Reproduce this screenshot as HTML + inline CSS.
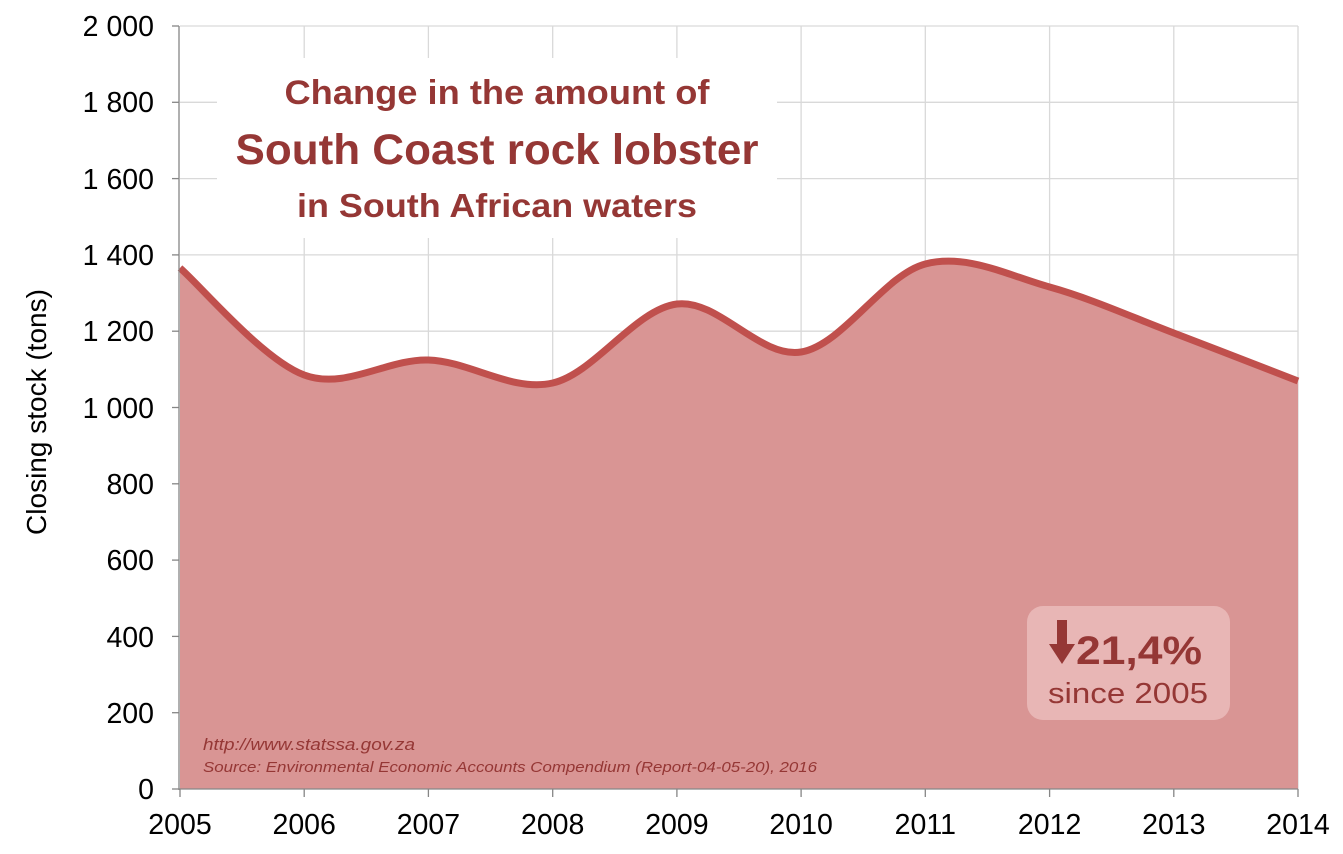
<!DOCTYPE html>
<html><head><meta charset="utf-8"><style>html,body{margin:0;padding:0;background:#fff}svg{display:block}</style></head>
<body>
<svg width="1343" height="854" viewBox="0 0 1343 854" xmlns="http://www.w3.org/2000/svg" font-family="Liberation Sans, Arial, sans-serif">
<g stroke="#d9d9d9" stroke-width="1.3">
<line x1="180" y1="26" x2="1298" y2="26"/>
<line x1="180" y1="102.3" x2="1298" y2="102.3"/>
<line x1="180" y1="178.6" x2="1298" y2="178.6"/>
<line x1="180" y1="254.9" x2="1298" y2="254.9"/>
<line x1="180" y1="331.2" x2="1298" y2="331.2"/>
<line x1="180" y1="407.5" x2="1298" y2="407.5"/>
<line x1="180" y1="483.8" x2="1298" y2="483.8"/>
<line x1="180" y1="560.1" x2="1298" y2="560.1"/>
<line x1="180" y1="636.4" x2="1298" y2="636.4"/>
<line x1="180" y1="712.7" x2="1298" y2="712.7"/>
<line x1="304.2" y1="26" x2="304.2" y2="789"/>
<line x1="428.4" y1="26" x2="428.4" y2="789"/>
<line x1="552.7" y1="26" x2="552.7" y2="789"/>
<line x1="676.9" y1="26" x2="676.9" y2="789"/>
<line x1="801.1" y1="26" x2="801.1" y2="789"/>
<line x1="925.3" y1="26" x2="925.3" y2="789"/>
<line x1="1049.6" y1="26" x2="1049.6" y2="789"/>
<line x1="1173.8" y1="26" x2="1173.8" y2="789"/>
<line x1="1298" y1="26" x2="1298" y2="789"/>
</g>
<path d="M180,268 C200.7,285.8 262.8,359.7 304.2,375 C345.6,390.3 387,358.7 428.4,360 C469.8,361.3 511.3,392.3 552.7,383 C594.1,373.7 635.5,309.2 676.9,304 C718.3,298.8 759.7,358.7 801.1,352 C842.5,345.3 883.9,274.8 925.3,264 C966.7,253.2 1008.2,275.5 1049.6,287 C1091,298.5 1132.4,317.3 1173.8,333 C1215.2,348.7 1277.3,373 1298,381 L1298,789 L180,789 Z" fill="#d99594"/>
<path d="M180,268 C200.7,285.8 262.8,359.7 304.2,375 C345.6,390.3 387,358.7 428.4,360 C469.8,361.3 511.3,392.3 552.7,383 C594.1,373.7 635.5,309.2 676.9,304 C718.3,298.8 759.7,358.7 801.1,352 C842.5,345.3 883.9,274.8 925.3,264 C966.7,253.2 1008.2,275.5 1049.6,287 C1091,298.5 1132.4,317.3 1173.8,333 C1215.2,348.7 1277.3,373 1298,381" fill="none" stroke="#c0504d" stroke-width="7"/>
<g stroke="#868686" stroke-width="1.3">
<line x1="179" y1="26" x2="179" y2="790"/>
<line x1="179" y1="789" x2="1298" y2="789"/>
<line x1="172" y1="26" x2="179" y2="26"/><line x1="172" y1="102.3" x2="179" y2="102.3"/><line x1="172" y1="178.6" x2="179" y2="178.6"/><line x1="172" y1="254.9" x2="179" y2="254.9"/><line x1="172" y1="331.2" x2="179" y2="331.2"/><line x1="172" y1="407.5" x2="179" y2="407.5"/><line x1="172" y1="483.8" x2="179" y2="483.8"/><line x1="172" y1="560.1" x2="179" y2="560.1"/><line x1="172" y1="636.4" x2="179" y2="636.4"/><line x1="172" y1="712.7" x2="179" y2="712.7"/><line x1="172" y1="789" x2="179" y2="789"/>
<line x1="180" y1="789" x2="180" y2="797"/><line x1="304.2" y1="789" x2="304.2" y2="797"/><line x1="428.4" y1="789" x2="428.4" y2="797"/><line x1="552.7" y1="789" x2="552.7" y2="797"/><line x1="676.9" y1="789" x2="676.9" y2="797"/><line x1="801.1" y1="789" x2="801.1" y2="797"/><line x1="925.3" y1="789" x2="925.3" y2="797"/><line x1="1049.6" y1="789" x2="1049.6" y2="797"/><line x1="1173.8" y1="789" x2="1173.8" y2="797"/><line x1="1298" y1="789" x2="1298" y2="797"/>
</g>
<g font-size="28.5" fill="#000" text-anchor="end">
<text x="154" y="36">2 000</text><text x="154" y="112">1 800</text><text x="154" y="189">1 600</text><text x="154" y="265">1 400</text><text x="154" y="341">1 200</text><text x="154" y="418">1 000</text><text x="154" y="494">800</text><text x="154" y="570">600</text><text x="154" y="647">400</text><text x="154" y="723">200</text><text x="154" y="799">0</text>
</g>
<g font-size="28.5" fill="#000" text-anchor="middle">
<text x="180" y="834">2005</text><text x="304.2" y="834">2006</text><text x="428.4" y="834">2007</text><text x="552.7" y="834">2008</text><text x="676.9" y="834">2009</text><text x="801.1" y="834">2010</text><text x="925.3" y="834">2011</text><text x="1049.6" y="834">2012</text><text x="1173.8" y="834">2013</text><text x="1298" y="834">2014</text>
</g>
<text transform="translate(46,412) rotate(-90)" font-size="28" text-anchor="middle" fill="#000">Closing stock (tons)</text>
<rect x="217" y="58" width="560" height="180" fill="#fff"/>
<g fill="#953735" font-weight="bold" text-anchor="middle">
<text x="497" y="104" font-size="34" textLength="425" lengthAdjust="spacingAndGlyphs">Change in the amount of</text>
<text x="497" y="164" font-size="43" textLength="523" lengthAdjust="spacingAndGlyphs">South Coast rock lobster</text>
<text x="497" y="217" font-size="33" textLength="400" lengthAdjust="spacingAndGlyphs">in South African waters</text>
</g>
<rect x="1027" y="606" width="203" height="114" rx="16" fill="#e8b6b5"/>
<g fill="#953735">
<rect x="1057" y="620" width="10" height="26"/>
<polygon points="1049,644 1075,644 1062,664"/>
<text x="1139" y="664" font-size="40" font-weight="bold" text-anchor="middle" textLength="126" lengthAdjust="spacingAndGlyphs">21,4%</text>
<text x="1128" y="703" font-size="29" text-anchor="middle" textLength="160" lengthAdjust="spacingAndGlyphs">since 2005</text>
</g>
<g fill="#953735" font-style="italic">
<text x="203" y="750" font-size="17" textLength="212" lengthAdjust="spacingAndGlyphs">http://www.statssa.gov.za</text>
<text x="203" y="772" font-size="15" textLength="614" lengthAdjust="spacingAndGlyphs">Source: Environmental Economic Accounts Compendium (Report-04-05-20), 2016</text>
</g>
</svg>
</body></html>
